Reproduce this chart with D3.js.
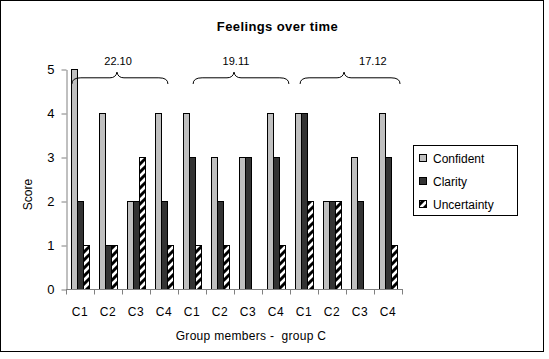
<!DOCTYPE html>
<html><head><meta charset="utf-8">
<script src="https://cdn.jsdelivr.net/npm/d3@7"></script>
<style>body{margin:0;background:#fff}svg{display:block}text{font-family:Arial,"Liberation Sans",sans-serif}</style>
</head><body><div id="c"></div>
<script>
const categories = ["C1","C2","C3","C4","C1","C2","C3","C4","C1","C2","C3","C4"];
const seriesNames = ["Confident","Clarity","Uncertainty"];
const confident   = [5,4,2,4, 4,3,3,4, 4,2,3,4];
const clarity     = [2,1,2,2, 3,2,3,3, 4,2,2,3];
const uncertainty = [1,1,3,1, 1,1,0,1, 2,2,0,1];
const yTicks = [0,1,2,3,4,5];
const dateLabels = ["22.10","19.11","17.12"];
// brace annotations, in category-index units (x) and score units (y)
const braceStart = [0.21, 4.54, 8.36];
const braceEnd   = [3.64, 7.96, 11.93];
const braceMid   = [1.82, 6.0, 9.93];
const labelPos   = [1.86, 6.07, 10.96];

const W=549,H=359;
const svg=d3.select("#c").append("svg").attr("width",W).attr("height",H);
const defs=svg.append("defs");
const pat=defs.append("pattern").attr("id","hatch").attr("patternUnits","userSpaceOnUse")
  .attr("width",8).attr("height",8);
pat.append("rect").attr("width",8).attr("height",8).attr("fill","#fff");
pat.append("path").attr("d","M0,8 L8,0 M-2,2 L2,-2 M6,10 L10,6").attr("stroke","#000").attr("stroke-width",3);

const colors={Confident:"#c0c0c0",Clarity:"#333333",Uncertainty:"url(#hatch)"};
const values={Confident:confident,Clarity:clarity,Uncertainty:uncertainty};

// chart border
svg.append("rect").attr("x",0.5).attr("y",0.5).attr("width",543).attr("height",351)
  .attr("fill","#fff").attr("stroke","#000");

const x0=d3.scaleBand().domain(d3.range(categories.length)).range([66,402]).paddingInner(0).paddingOuter(0);
const x1=d3.scaleBand().domain(seriesNames).range([0,x0.bandwidth()]).paddingInner(0).paddingOuter(5/6);
const xi=d3.scaleLinear().domain([0,categories.length]).range([66,402]);
const y=d3.scaleLinear().domain([0,5]).range([289,69]);

svg.append("text").attr("x",277.5).attr("y",30.5).attr("text-anchor","middle")
  .attr("font-size",13).attr("font-weight","bold").attr("letter-spacing",0.4).text("Feelings over time");

// bars
const g=svg.append("g");
categories.forEach((c,i)=>{
  seriesNames.forEach(s=>{
    const v=values[s][i];
    if(!v) return;
    g.append("rect").attr("x",x0(i)+x1(s)+0.5).attr("y",y(v)+0.5)
      .attr("width",x1.bandwidth()).attr("height",y(0)-y(v))
      .attr("fill",colors[s]).attr("stroke","#000").attr("stroke-width",1);
  });
});

// y axis
const ya=svg.append("g").attr("transform","translate(66.5,0.5)")
  .call(d3.axisLeft(y).tickValues(yTicks).tickFormat(d3.format("d")).tickSize(5).tickSizeOuter(0).tickPadding(7));
ya.select(".domain").attr("stroke","#808080");
ya.selectAll(".tick line").attr("stroke","#808080");
ya.selectAll("text").attr("font-size",13).attr("font-family","Arial, Liberation Sans").attr("fill","#000");

// x axis
const xa=svg.append("g");
xa.append("line").attr("x1",66).attr("x2",402.5).attr("y1",289.5).attr("y2",289.5).attr("stroke","#808080");
xa.selectAll("line.t").data(d3.range(categories.length+1)).join("line").attr("class","t")
  .attr("x1",d=>xi(d)+0.5).attr("x2",d=>xi(d)+0.5).attr("y1",289).attr("y2",294.5).attr("stroke","#808080");
xa.selectAll("text").data(categories).join("text")
  .attr("x",(d,i)=>x0(i)+x0.bandwidth()/2).attr("y",316).attr("text-anchor","middle")
  .attr("font-size",12).attr("letter-spacing",0.5).text(d=>d);

svg.append("text").attr("x",251).attr("y",339.5).attr("text-anchor","middle")
  .attr("font-size",12).attr("letter-spacing",0.3).attr("xml:space","preserve").style("white-space","pre").text("Group members -  group C");
svg.append("text").attr("transform","translate(31.5,194.5) rotate(-90)").attr("text-anchor","middle")
  .attr("font-size",12).text("Score");

// braces
dateLabels.forEach((lab,k)=>{
  const a=xi(braceStart[k]), b=xi(braceEnd[k]), m=xi(braceMid[k]);
  const yh=y(4.8), ye=y(4.66), yp=y(4.93);
  const p=d3.path();
  p.moveTo(a,ye);
  p.quadraticCurveTo(a,yh,a+9,yh);
  p.lineTo(m-7,yh);
  p.quadraticCurveTo(m-1,yh,m,yp);
  p.quadraticCurveTo(m+1,yh,m+7,yh);
  p.lineTo(b-9,yh);
  p.quadraticCurveTo(b,yh,b,ye);
  svg.append("path").attr("d",p.toString()).attr("fill","none").attr("stroke","#000").attr("stroke-width",1);
  svg.append("text").attr("x",xi(labelPos[k])).attr("y",y(5.18)+4).attr("text-anchor","middle")
    .attr("font-size",11).text(lab);
});

// legend
const lg=svg.append("g");
lg.append("rect").attr("x",413.5).attr("y",145.5).attr("width",104).attr("height",70)
  .attr("fill","#fff").attr("stroke","#000");
seriesNames.forEach((s,i)=>{
  const cy=158+i*23;
  lg.append("rect").attr("x",419.5).attr("y",cy-3.5).attr("width",7).attr("height",7)
    .attr("fill",colors[s]).attr("stroke","#000");
  lg.append("text").attr("x",433).attr("y",cy+4.5).attr("font-size",12).text(s);
});
</script></body></html>
